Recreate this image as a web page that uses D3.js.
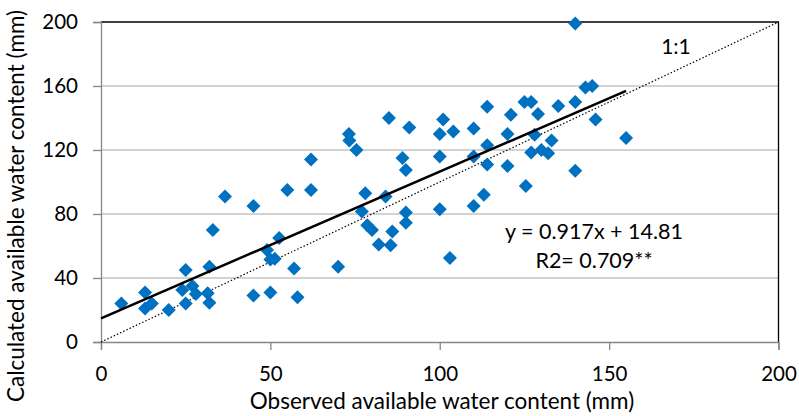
<!DOCTYPE html>
<html>
<head>
<meta charset="utf-8">
<script src="https://cdn.jsdelivr.net/npm/d3@7"></script>
<style>
  body { margin: 0; background: #fff; }
  svg { font-family: Lato, "Open Sans", sans-serif; }
</style>
</head>
<body>
<svg id="canvas" width="799" height="416"></svg>
<script>
// observed vs calculated available water content (mm)
const observed = [
  6, 13, 13, 15, 20, 25, 24, 27, 28, 25, 31.5, 32, 32, 33, 36.6, 45, 45, 50, 58, 57,
  49, 50, 51.3, 52.6, 55, 62, 70, 62, 73.2, 73.3, 75.4, 85, 91, 89, 90, 78, 84, 77,
  78.6, 80, 82, 85.5, 86, 90, 90, 103, 100, 100, 100, 101, 104, 110, 110, 110, 113,
  114, 114, 114, 120, 120, 121, 140, 143, 145, 140, 146, 135, 125, 127, 129, 128,
  133, 127, 130, 132, 155, 140, 125.4
];
const calculated = [
  24, 31, 21, 24, 20, 45, 32.5, 35, 30, 24, 30.5, 24.5, 47, 70, 91, 85, 29, 31, 28, 46,
  57.5, 51.5, 52, 65, 95, 95, 47, 114, 130, 126, 120, 140, 134, 115, 107.5, 93, 91, 81.5,
  73, 70, 61, 60.5, 69, 81, 74.5, 52.5, 83, 116, 130, 139, 131.5, 133.5, 116, 85, 92,
  147, 123, 111, 130, 110, 142, 199, 159, 160, 150, 139, 147.5, 150, 150, 142.5, 129.5,
  126, 118.5, 120, 118, 127.5, 107, 97.5
];

const xTicks = [0, 50, 100, 150, 200];
const yTicks = [0, 40, 80, 120, 160, 200];

const slope = 0.917;
const intercept = 14.81;
const trendRange = [0, 155];
const oneToOne = [0, 200];

const eqLabel = "y = 0.917x + 14.81";
const r2Label = "R2= 0.709**";

let svg = d3.select("#canvas");

let plotLeft = 101, plotRight = 778.5, plotTop = 22, plotBottom = 342;

let x = d3.scaleLinear().domain([0, 200]).range([plotLeft, plotRight]);
let y = d3.scaleLinear().domain([0, 200]).range([plotBottom, plotTop]);

// gridlines
svg.append("g")
  .selectAll("line")
  .data(yTicks.filter(d => d > 0 && d < 200))
  .enter()
  .append("line")
  .attr("x1", plotLeft)
  .attr("x2", plotRight)
  .attr("y1", d => y(d))
  .attr("y2", d => y(d))
  .attr("stroke", "#a6a6a6")
  .attr("stroke-width", 1);

// plot border (top / right)
svg.append("path")
  .attr("d", `M${plotLeft},${plotTop}H${plotRight}V${plotBottom}`)
  .attr("fill", "none")
  .attr("stroke", "#000")
  .attr("stroke-width", 1.3);

// axes
let xAxis = svg.append("g")
  .attr("transform", `translate(0,${plotBottom})`)
  .call(d3.axisBottom(x).tickValues(xTicks).tickSize(8).tickPadding(16));

let yAxis = svg.append("g")
  .attr("transform", `translate(${plotLeft},0)`)
  .call(d3.axisLeft(y).tickValues(yTicks).tickSize(8).tickPadding(15));

[xAxis, yAxis].forEach(a => {
  a.select(".domain").attr("stroke", "#868686").attr("stroke-width", 1.3);
  a.selectAll(".tick line").attr("stroke", "#868686").attr("stroke-width", 1.3);
  a.selectAll(".tick text")
    .attr("fill", "#000")
    .style("font-family", "Lato, 'Open Sans', sans-serif")
    .style("font-size", "20.5px");
});
xAxis.selectAll(".tick text").attr("dy", "0.71em");

// 1:1 line
svg.append("line")
  .attr("x1", x(oneToOne[0]))
  .attr("y1", y(oneToOne[0]))
  .attr("x2", x(oneToOne[1]))
  .attr("y2", y(oneToOne[1]))
  .attr("stroke", "#000")
  .attr("stroke-width", 1.2)
  .attr("stroke-dasharray", "1.5,2");

// points
svg.append("g")
  .selectAll("path")
  .data(observed.map((d, i) => [d, calculated[i]]))
  .enter()
  .append("path")
  .attr("d", "M0,-7L7,0L0,7L-7,0Z")
  .attr("transform", d => `translate(${x(d[0])},${y(d[1])})`)
  .attr("fill", "#0070c0");

// trend line
svg.append("line")
  .attr("x1", x(trendRange[0]))
  .attr("y1", y(slope * trendRange[0] + intercept))
  .attr("x2", x(trendRange[1]))
  .attr("y2", y(slope * trendRange[1] + intercept))
  .attr("stroke", "#000")
  .attr("stroke-width", 2.5);

// annotations
svg.append("text")
  .attr("x", 676)
  .attr("y", 54)
  .attr("text-anchor", "middle")
  .style("font-size", "21px")
  .text("1:1");

svg.append("text")
  .attr("x", 594)
  .attr("y", 239)
  .attr("text-anchor", "middle")
  .style("font-size", "21.5px")
  .text(eqLabel);

svg.append("text")
  .attr("x", 594)
  .attr("y", 268)
  .attr("text-anchor", "middle")
  .style("font-size", "21.5px")
  .text(r2Label);

// axis titles
svg.append("text")
  .attr("x", 442)
  .attr("y", 409)
  .attr("text-anchor", "middle")
  .style("font-size", "22.5px")
  .text("Observed available water content (mm)");

svg.append("text")
  .attr("transform", "translate(24,206) rotate(-90)")
  .attr("text-anchor", "middle")
  .style("font-size", "22.5px")
  .text("Calculated available water content (mm)");
</script>
</body>
</html>
